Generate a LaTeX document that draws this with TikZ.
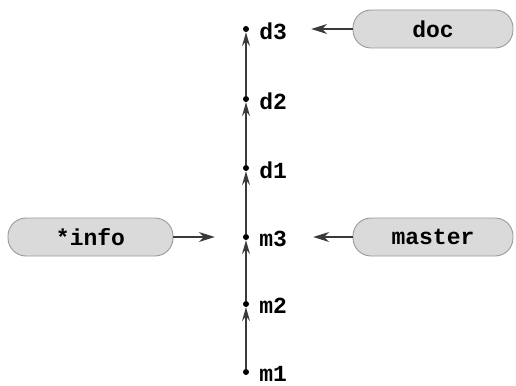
\documentclass[tikz,border=0pt]{standalone}
\usepackage{fontspec}
\setmonofont{Liberation Mono}
\usetikzlibrary{positioning,arrows.meta}
\definecolor{boxfill}{HTML}{DADADA}
\definecolor{boxline}{HTML}{9A9A9A}
\definecolor{linecol}{HTML}{3A3A3A}
\begin{document}
\begin{tikzpicture}
  [x=1pt, y=-1pt,
   commit/.style={circle, fill=black, inner sep=0pt, minimum size=6pt},
   clabel/.style={font=\ttfamily\bfseries\fontsize{23}{26}\selectfont, inner sep=0pt, yshift=-2pt},
   branch/.style={draw=boxline, fill=boxfill, line width=0.9pt, rounded corners=18pt,
                  minimum height=38pt, font=\ttfamily\bfseries\fontsize{23}{26}\selectfont},
   edge/.style={draw=linecol, line width=1.3pt, -{Stealth[length=14pt, width=8pt, inset=5pt]}},
   ptr/.style={draw=linecol, line width=1.3pt, -{Stealth[length=16pt, width=10pt, inset=5pt]}}]

  \useasboundingbox (0,0) rectangle (516,385);

  % Commits
  \node[commit] (m1) at (246,372) {};
  \node[commit] (m2) at (246,304) {};
  \node[commit] (m3) at (246,237) {};
  \node[commit] (d1) at (246,168) {};
  \node[commit] (d2) at (246,99) {};
  \node[commit] (d3) at (246,29) {};

  % Etiquetas de los commits
  \foreach \c in {m1, m2, m3, d1, d2, d3}
    \node[clabel, right=10pt of \c] {\c};

  % Historia
  \foreach \from/\to in {m1/m2, m2/m3, m3/d1, d1/d2, d2/d3}
    \draw[edge] (\from) -- (\to);

  % Ramas
  \node[branch, minimum width=160pt] (doc) at (433,29) {doc};
  \node[branch, minimum width=160pt] (master) at (433,237) {master};
  \node[branch, minimum width=165pt] (info) at (90.5,237) {*info};

  \draw[ptr, shorten >=62pt] (doc.west) -- (d3);
  \draw[ptr, shorten >=64pt] (master.west) -- (m3);
  \draw[ptr, shorten >=28pt] (info.east) -- (m3);
\end{tikzpicture}
\end{document}
